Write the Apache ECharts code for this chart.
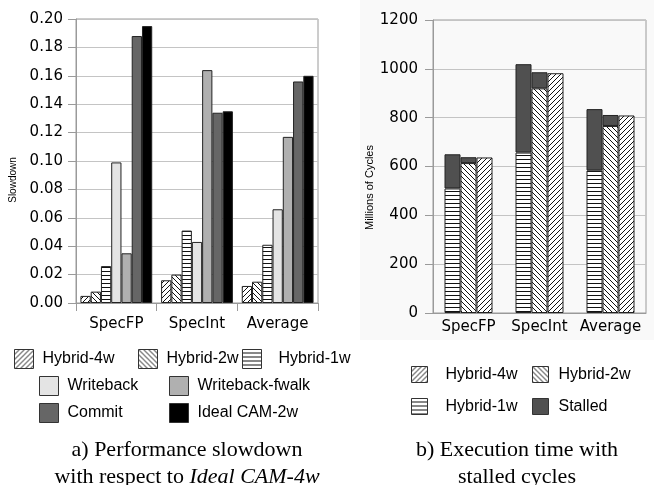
<!DOCTYPE html>
<html>
<head>
<meta charset="utf-8">
<script src="https://cdn.jsdelivr.net/npm/echarts@6/dist/echarts.min.js"></script>
<style>
  html, body { margin: 0; padding: 0; background: #fff; }
  #main { width: 654px; height: 485px; }
</style>
</head>
<body>
<div id="main"></div>
<script>
// left chart: slowdown vs Ideal CAM-4w
var benchmarks = ['SpecFP', 'SpecInt', 'Average'];
var slowdownNames = ['Hybrid-4w', 'Hybrid-2w', 'Hybrid-1w', 'Writeback', 'Writeback-fwalk', 'Commit', 'Ideal CAM-2w'];
var hybrid4wSlow = [0.005, 0.016, 0.012];
var hybrid2wSlow = [0.008, 0.020, 0.015];
var hybrid1wSlow = [0.026, 0.051, 0.041];
var writebackSlow = [0.099, 0.043, 0.066];
var fwalkSlow = [0.035, 0.164, 0.117];
var commitSlow = [0.188, 0.134, 0.156];
var idealSlow = [0.195, 0.135, 0.160];
var slowTicks = ['0.00', '0.02', '0.04', '0.06', '0.08', '0.10', '0.12', '0.14', '0.16', '0.18', '0.20'];

// right chart: execution time (millions of cycles)
var hybrid1wExec = [510, 657, 584];
var hybrid1wStall = [140, 362, 251];
var hybrid2wExec = [614, 920, 766];
var hybrid2wStall = [24, 66, 45];
var hybrid4wExec = [637, 982, 809];

function hatch(kind) {
    var n = kind == 'h' ? 4 : 5;
    var c = document.createElement('canvas');
    c.width = n; c.height = n;
    var g = c.getContext('2d');
    g.fillStyle = '#fff';
    g.fillRect(0, 0, n, n);
    g.strokeStyle = '#111';
    g.lineWidth = 1;
    g.beginPath();
    if (kind == 'h') {
        g.moveTo(0, 3.5); g.lineTo(n, 3.5);
    } else {
        [-n, 0, n].forEach(function(o) {
            if (kind == '/') { g.moveTo(o, n); g.lineTo(o + n, 0); }
            else { g.moveTo(o, 0); g.lineTo(o + n, n); }
        });
    }
    g.stroke();
    return { image: c, repeat: 'repeat' };
}

var fills = {
    'Hybrid-4w': hatch('/'),
    'Hybrid-2w': hatch('\\'),
    'Hybrid-1w': hatch('h'),
    'Writeback': '#e4e4e4',
    'Writeback-fwalk': '#b0b0b0',
    'Commit': '#666666',
    'Ideal CAM-2w': '#000000',
    'Stalled': '#505050'
};
var border = { borderColor: '#222', borderWidth: 1 };

function style(name) {
    return Object.assign({ color: fills[name] }, border);
}

var slowData = [hybrid4wSlow, hybrid2wSlow, hybrid1wSlow, writebackSlow, fwalkSlow, commitSlow, idealSlow];
var series = [];
slowData.forEach(function(d, i) {
    series.push({
        name: slowdownNames[i],
        type: 'bar',
        xAxisIndex: 0,
        yAxisIndex: 0,
        barGap: 0,
        barCategoryGap: '11%',
        itemStyle: style(slowdownNames[i]),
        data: d
    });
});

[
    ['Hybrid-1w', hybrid1wExec, 'a'],
    ['Stalled', hybrid1wStall, 'a'],
    ['Hybrid-2w', hybrid2wExec, 'b'],
    ['Stalled', hybrid2wStall, 'b'],
    ['Hybrid-4w', hybrid4wExec, 'c']
].forEach(function(item) {
    series.push({
        name: item[0],
        type: 'bar',
        stack: item[2],
        xAxisIndex: 1,
        yAxisIndex: 1,
        barGap: 0,
        barWidth: 16,
        itemStyle: style(item[0]),
        data: item[1]
    });
});

// legend items: [name, left, top, iconSize, textGap]
var legendItems = [
    ['Hybrid-4w', 14, 349, 19, 4], ['Hybrid-2w', 138, 349, 19, 4], ['Hybrid-1w', 242, 349, 19, 12],
    ['Writeback', 39, 376, 19, 4], ['Writeback-fwalk', 169, 376, 19, 4],
    ['Commit', 39, 403, 19, 4], ['Ideal CAM-2w', 169, 403, 19, 4],
    ['Hybrid-4w', 411, 366, 16, 13], ['Hybrid-2w', 532, 366, 16, 5],
    ['Hybrid-1w', 411, 398, 16, 13], ['Stalled', 532, 398, 16, 5]
];
var legends = legendItems.map(function(it) {
    return {
        data: [it[0]],
        left: it[1],
        top: it[2],
        icon: 'rect',
        itemWidth: it[3],
        itemHeight: it[3],
        itemGap: 0,
        padding: 0,
        selectedMode: false,
        itemStyle: { borderColor: '#333', borderWidth: 1 },
        textStyle: { fontFamily: 'Liberation Sans', fontSize: 16, color: '#000', padding: [0, 0, 0, it[4]] }
    };
});

var axisGrey = '#9a9a9a';
var tickFont = { fontFamily: 'DejaVu Sans', fontSize: 15, color: '#000' };

option = {
    backgroundColor: '#fff',
    animation: false,
    graphic: [{
        type: 'rect',
        z: -10,
        shape: { x: 360, y: 0, width: 294, height: 340 },
        style: { fill: '#f9f9f9' }
    }],
    title: [{
        text: 'a) Performance slowdown\nwith respect to {i|Ideal CAM-4w}',
        left: 182,
        top: 432,
        textAlign: 'center',
        textStyle: {
            fontFamily: 'Liberation Serif', fontSize: 22, fontWeight: 'normal', color: '#000', lineHeight: 27,
            rich: { i: { fontFamily: 'Liberation Serif', fontSize: 22, fontStyle: 'italic', color: '#000', lineHeight: 27 } }
        }
    }, {
        text: 'b) Execution time with\nstalled cycles',
        left: 512,
        top: 432,
        textAlign: 'center',
        textStyle: { fontFamily: 'Liberation Serif', fontSize: 22, fontWeight: 'normal', color: '#000', lineHeight: 27 }
    }],
    legend: legends,
    grid: [
        { left: 76, right: 336, top: 19, bottom: 182, show: true, borderColor: axisGrey, borderWidth: 1 },
        { left: 433, right: 8, top: 20, bottom: 172, show: true, borderColor: axisGrey, borderWidth: 1 }
    ],
    xAxis: [{
        type: 'category',
        gridIndex: 0,
        data: benchmarks,
        axisLine: { lineStyle: { color: axisGrey } },
        axisTick: { show: true, length: 8, lineStyle: { color: axisGrey } },
        axisLabel: Object.assign({ margin: 14, interval: 0 }, tickFont)
    }, {
        type: 'category',
        gridIndex: 1,
        data: benchmarks,
        axisLine: { lineStyle: { color: axisGrey } },
        axisTick: { show: false },
        axisLabel: Object.assign({ margin: 7, interval: 0, hideOverlap: false }, tickFont)
    }],
    yAxis: [{
        type: 'value',
        gridIndex: 0,
        min: 0,
        max: 0.2,
        interval: 0.02,
        name: 'Slowdown',
        nameLocation: 'middle',
        nameGap: 58,
        nameTextStyle: { fontFamily: 'Liberation Sans', fontSize: 10, color: '#000', padding: [0, 38, 0, 0] },
        axisLine: { show: true, lineStyle: { color: axisGrey } },
        axisTick: { show: true, length: 8, lineStyle: { color: axisGrey } },
        splitLine: { lineStyle: { color: '#c4c4c4' } },
        axisLabel: Object.assign({
            margin: 13,
            formatter: function(v) { return slowTicks[Math.round(v / 0.02)]; }
        }, tickFont)
    }, {
        type: 'value',
        gridIndex: 1,
        min: 0,
        max: 1200,
        interval: 200,
        name: 'Millions of Cycles',
        nameLocation: 'middle',
        nameGap: 56,
        nameTextStyle: { fontFamily: 'Liberation Sans', fontSize: 11, color: '#000', padding: [0, 42, 0, 0] },
        axisLine: { show: true, lineStyle: { color: axisGrey } },
        axisTick: { show: true, length: 8, lineStyle: { color: axisGrey } },
        splitLine: { lineStyle: { color: '#c4c4c4' } },
        axisLabel: Object.assign({ margin: 15, formatter: function(v) { return String(v); } }, tickFont)
    }],
    series: series
};

var myChart = echarts.init(document.getElementById('main'));
myChart.setOption(option);
</script>
</body>
</html>
